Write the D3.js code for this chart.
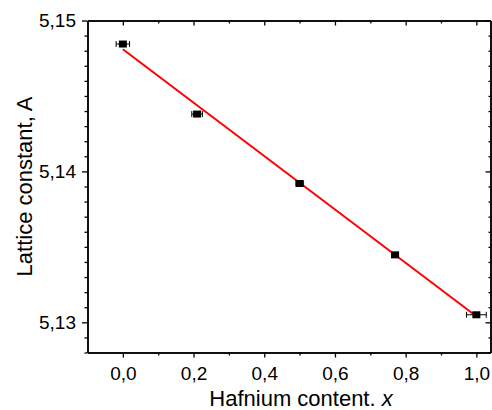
<!DOCTYPE html>
<html>
<head>
<meta charset="utf-8">
<script src="https://cdn.jsdelivr.net/npm/d3@7"></script>
<style>
  html, body { margin: 0; padding: 0; background: #fff; }
  svg { display: block; }
  text { font-family: "Liberation Sans", Arial, sans-serif; fill: #000; }
</style>
</head>
<body>
<svg id="chart" width="492" height="410"></svg>
<script>
// Hafnium content x and measured lattice constant (Å)
const hfContent = [0.0, 0.21, 0.50, 0.77, 1.0];
const latticeA  = [5.14844, 5.1438, 5.1392, 5.13447, 5.1305];
const xError    = [0.019, 0.015, 0.010, 0.010, 0.028];

// Linear fit drawn across the composition range
const fitX = [0.0, 1.0];
const fitY = [5.1481, 5.1304];

const xTickLabels = ["0,0", "0,2", "0,4", "0,6", "0,8", "1,0"];
const yTickLabels = ["5,13", "5,14", "5,15"];

const xMajor = [0, 0.2, 0.4, 0.6, 0.8, 1.0];
const xMinor = [0.1, 0.3, 0.5, 0.7, 0.9];
const yMajor = [5.13, 5.14, 5.15];
const yMinor = d3.range(5128, 5151).map(v => v / 1000).filter(v => !yMajor.some(m => Math.abs(m - v) < 1e-9));

const svg = d3.select("#chart");
const padL = 87.5, padR = 490.5, padT = 20.5, padB = 352.5;

const x = d3.scaleLinear().domain([-0.1, 1.04]).range([padL, padR]);
const y = d3.scaleLinear().domain([5.128, 5.15]).range([padB, padT]);

const fmtX = d => xTickLabels[xMajor.findIndex(v => Math.abs(v - d) < 1e-9)];
const fmtY = d => yTickLabels[yMajor.findIndex(v => Math.abs(v - d) < 1e-9)];

function styleAxis(g) {
  g.selectAll("path.domain").attr("stroke", "#000").attr("stroke-width", 1.5);
  g.selectAll(".tick line").attr("stroke", "#000").attr("stroke-width", 1.3);
  g.selectAll("text").attr("font-size", 19).attr("font-family", "'Liberation Sans', Arial, sans-serif");
}

// Bottom axis (outward ticks)
svg.append("g").attr("transform", `translate(0,${padB})`)
  .call(d3.axisBottom(x).tickValues(xMajor).tickFormat(fmtX).tickSizeInner(5).tickSizeOuter(0).tickPadding(9))
  .call(styleAxis);
svg.append("g").attr("transform", `translate(0,${padB})`)
  .call(d3.axisBottom(x).tickValues(xMinor).tickFormat("").tickSizeInner(3).tickSizeOuter(0))
  .call(styleAxis);

// Top axis (inward ticks)
svg.append("g").attr("transform", `translate(0,${padT})`)
  .call(d3.axisBottom(x).tickValues(xMajor).tickFormat("").tickSizeInner(5).tickSizeOuter(0))
  .call(styleAxis);
svg.append("g").attr("transform", `translate(0,${padT})`)
  .call(d3.axisBottom(x).tickValues(xMinor).tickFormat("").tickSizeInner(3).tickSizeOuter(0))
  .call(styleAxis);

// Left axis (outward ticks)
svg.append("g").attr("transform", `translate(${padL},0)`)
  .call(d3.axisLeft(y).tickValues(yMajor).tickFormat(fmtY).tickSizeInner(5.5).tickSizeOuter(0).tickPadding(6))
  .call(styleAxis);
svg.append("g").attr("transform", `translate(${padL},0)`)
  .call(d3.axisLeft(y).tickValues(yMinor).tickFormat("").tickSizeInner(3).tickSizeOuter(0))
  .call(styleAxis);

// Right axis (inward ticks)
svg.append("g").attr("transform", `translate(${padR},0)`)
  .call(d3.axisLeft(y).tickValues(yMajor).tickFormat("").tickSizeInner(5).tickSizeOuter(0))
  .call(styleAxis);
svg.append("g").attr("transform", `translate(${padR},0)`)
  .call(d3.axisLeft(y).tickValues(yMinor).tickFormat("").tickSizeInner(2).tickSizeOuter(0))
  .call(styleAxis);

// Fit line
const line = d3.line().x(d => x(d[0])).y(d => y(d[1]));
svg.append("path")
  .datum(fitX.map((v, i) => [v, fitY[i]]))
  .attr("d", line)
  .attr("fill", "none")
  .attr("stroke", "#ff0000")
  .attr("stroke-width", 2);

// Data points with horizontal error bars
const pts = hfContent.map((v, i) => ({ x: v, y: latticeA[i], e: xError[i] }));
const pg = svg.append("g").selectAll("g").data(pts).join("g");
pg.append("line")
  .attr("x1", d => x(d.x - d.e)).attr("x2", d => x(d.x + d.e))
  .attr("y1", d => y(d.y)).attr("y2", d => y(d.y))
  .attr("stroke", "#000").attr("stroke-width", 1);
pg.append("line")
  .attr("x1", d => x(d.x - d.e)).attr("x2", d => x(d.x - d.e))
  .attr("y1", d => y(d.y) - 3).attr("y2", d => y(d.y) + 3)
  .attr("stroke", "#000").attr("stroke-width", 1);
pg.append("line")
  .attr("x1", d => x(d.x + d.e)).attr("x2", d => x(d.x + d.e))
  .attr("y1", d => y(d.y) - 3).attr("y2", d => y(d.y) + 3)
  .attr("stroke", "#000").attr("stroke-width", 1);
pg.append("rect")
  .attr("x", d => x(d.x) - 4).attr("y", d => y(d.y) - 3.5)
  .attr("width", 8).attr("height", 7)
  .attr("fill", "#000");

// Axis titles
const xt = svg.append("text")
  .attr("x", 301).attr("y", 406)
  .attr("text-anchor", "middle")
  .attr("font-size", 22);
xt.append("tspan").text("Hafnium content. ");
xt.append("tspan").attr("font-style", "italic").text("x");

svg.append("text")
  .attr("transform", `translate(32,${(padT + padB) / 2}) rotate(-90)`)
  .attr("text-anchor", "middle")
  .attr("font-size", 22)
  .text("Lattice constant, A");
</script>
</body>
</html>
